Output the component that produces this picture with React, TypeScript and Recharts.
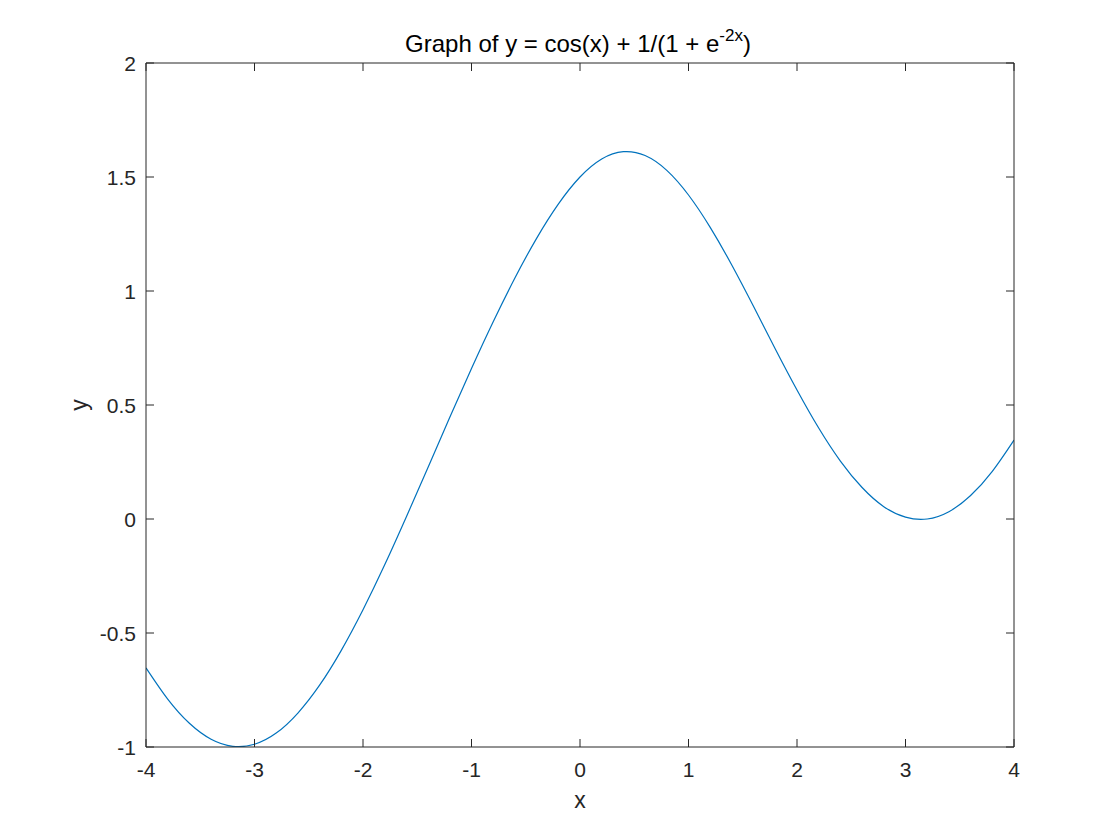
import { LineChart, Line, XAxis, YAxis, Label } from 'recharts';

const xValues = [
  -4, -3.8, -3.6, -3.4, -3.2, -3, -2.8, -2.6, -2.4, -2.2, -2, -1.8, -1.6, -1.4, -1.2, -1, -0.8,
  -0.6, -0.4, -0.2, 0, 0.2, 0.4, 0.6, 0.8, 1, 1.2, 1.4, 1.6, 1.8, 2, 2.2, 2.4, 2.6, 2.8, 3, 3.2,
  3.4, 3.6, 3.8, 4,
];
const yValues = [
  -0.653, -0.79, -0.896, -0.966, -0.997, -0.988, -0.939, -0.851, -0.729, -0.576, -0.398, -0.201,
  0.01, 0.227, 0.446, 0.66, 0.865, 1.057, 1.231, 1.381, 1.5, 1.579, 1.611, 1.594, 1.529, 1.421,
  1.279, 1.113, 0.932, 0.746, 0.566, 0.399, 0.254, 0.138, 0.054, 0.008, 0.0, 0.032, 0.103, 0.209,
  0.346,
];
const xTicks = [-4, -3, -2, -1, 0, 1, 2, 3, 4];
const yTicks = [-1, -0.5, 0, 0.5, 1, 1.5, 2];

const data = xValues.map((x, i) => ({ x, y: yValues[i] }));

const AXIS = '#262626';
const FONT = '"Liberation Sans", Arial, Helvetica, sans-serif';
const TICK_LEN = 8;
// recharts places the tick anchor tickSize + tickMargin away from the axis line
const TICK_SIZE = 6;
const TICK_MARGIN = 2;
const OFF = TICK_SIZE + TICK_MARGIN;

// ticks drawn inside the box, MATLAB style
const bottomTick = ({ x, y, payload }: any) => (
  <g>
    <line x1={x} y1={y - OFF} x2={x} y2={y - OFF - TICK_LEN} stroke={AXIS} />
    <text x={x} y={y - OFF + 30} textAnchor="middle" fontSize={21} fill={AXIS} fontFamily={FONT}>
      {payload.value}
    </text>
  </g>
);

const topTick = ({ x, y }: any) => (
  <line x1={x} y1={y + OFF} x2={x} y2={y + OFF + TICK_LEN} stroke={AXIS} />
);

const leftTick = ({ x, y, payload }: any) => (
  <g>
    <line x1={x + OFF} y1={y} x2={x + OFF + TICK_LEN} y2={y} stroke={AXIS} />
    <text x={x + OFF - 10} y={y + 7.5} textAnchor="end" fontSize={21} fill={AXIS} fontFamily={FONT}>
      {payload.value}
    </text>
  </g>
);

const rightTick = ({ x, y }: any) => (
  <line x1={x - OFF} y1={y} x2={x - OFF - TICK_LEN} y2={y} stroke={AXIS} />
);

const renderTitle = ({ viewBox }: any) => {
  const cx = viewBox.x + viewBox.width / 2;
  return (
    <text
      x={cx - 2}
      y={viewBox.y + viewBox.height - 11}
      textAnchor="middle"
      fontSize={24}
      fill="#000"
      fontFamily={FONT}
    >
      Graph of y = cos(x) + 1/(1 + e
      <tspan fontSize={17} dy={-11}>-2x</tspan>
      <tspan dy={11}>)</tspan>
    </text>
  );
};

const renderXLabel = ({ viewBox }: any) => (
  <text
    x={viewBox.x + viewBox.width / 2}
    y={viewBox.y + 61}
    textAnchor="middle"
    fontSize={23}
    fill={AXIS}
    fontFamily={FONT}
  >
    x
  </text>
);

const renderYLabel = ({ viewBox }: any) => {
  const cy = viewBox.y + viewBox.height / 2;
  return (
    <text
      x={87}
      y={cy}
      transform={`rotate(-90, 87, ${cy})`}
      textAnchor="middle"
      fontSize={23}
      fill={AXIS}
      fontFamily={FONT}
    >
      y
    </text>
  );
};

export default function App() {
  return (
    <div style={{ position: 'absolute', left: 0, top: 0, width: 1120, height: 840, background: '#fff' }}>
      <LineChart width={1120} height={840} data={data} margin={{ top: 62, right: 105, bottom: 0, left: 0 }}>
        <XAxis
          dataKey="x"
          type="number"
          domain={[-4, 4]}
          ticks={xTicks}
          allowDataOverflow
          height={93}
          stroke={AXIS}
          tickLine={false}
          tickSize={TICK_SIZE}
          tickMargin={TICK_MARGIN}
          tick={bottomTick}
          interval={0}
        >
          <Label content={renderXLabel} />
        </XAxis>
        <XAxis
          xAxisId="top"
          orientation="top"
          dataKey="x"
          type="number"
          domain={[-4, 4]}
          ticks={xTicks}
          allowDataOverflow
          height={1}
          stroke={AXIS}
          tickLine={false}
          tickSize={TICK_SIZE}
          tickMargin={TICK_MARGIN}
          tick={topTick}
          interval={0}
        >
          <Label content={renderTitle} />
        </XAxis>
        <YAxis
          type="number"
          domain={[-1, 2]}
          ticks={yTicks}
          allowDataOverflow
          width={146}
          stroke={AXIS}
          tickLine={false}
          tickSize={TICK_SIZE}
          tickMargin={TICK_MARGIN}
          tick={leftTick}
          interval={0}
        >
          <Label content={renderYLabel} />
        </YAxis>
        <YAxis
          yAxisId="right"
          orientation="right"
          type="number"
          domain={[-1, 2]}
          ticks={yTicks}
          allowDataOverflow
          width={1}
          stroke={AXIS}
          tickLine={false}
          tickSize={TICK_SIZE}
          tickMargin={TICK_MARGIN}
          tick={rightTick}
          interval={0}
        />
        <Line
          type="natural"
          dataKey="y"
          stroke="#0072BD"
          strokeWidth={1.2}
          dot={false}
          isAnimationActive={false}
        />
        {/* invisible copy bound to the mirror axes so they render */}
        <Line
          xAxisId="top"
          yAxisId="right"
          dataKey="y"
          stroke="none"
          dot={false}
          activeDot={false}
          legendType="none"
          isAnimationActive={false}
        />
      </LineChart>
    </div>
  );
}
